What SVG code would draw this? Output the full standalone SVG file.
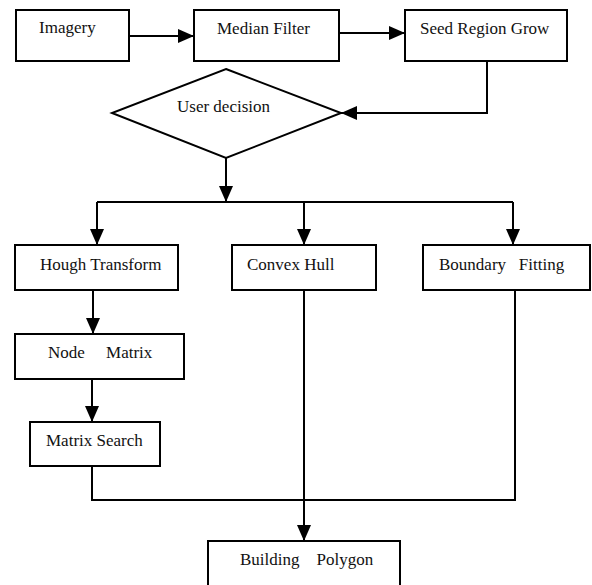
<svg xmlns="http://www.w3.org/2000/svg" width="592" height="585" viewBox="0 0 592 585">
<style>
.box{fill:#fff;stroke:#000;stroke-width:2}
.lbl{font-family:'Liberation Serif','Times New Roman','DejaVu Serif',serif;font-size:17px;fill:#111}
.con{fill:none;stroke:#000;stroke-width:2}
</style>
<defs>
<marker id="ah" markerUnits="userSpaceOnUse" markerWidth="16" markerHeight="14" refX="16" refY="7" orient="auto">
<path d="M0,0 L16,7 L0,14 z" fill="#000"/>
</marker>
</defs>
<rect width="592" height="585" fill="#fff"/>
<g id="connectors">
<path class="con" d="M129,36 H194" marker-end="url(#ah)"/>
<path class="con" d="M339,33 H405" marker-end="url(#ah)"/>
<path class="con" d="M487,61 V113 H341" marker-end="url(#ah)"/>
<path class="con" d="M226,158 V202" marker-end="url(#ah)"/>
<path class="con" d="M97,202 H513"/>
<path class="con" d="M97,202 V245" marker-end="url(#ah)"/>
<path class="con" d="M304,202 V245" marker-end="url(#ah)"/>
<path class="con" d="M513,202 V245" marker-end="url(#ah)"/>
<path class="con" d="M93,290 V334" marker-end="url(#ah)"/>
<path class="con" d="M92,379 V422" marker-end="url(#ah)"/>
<path class="con" d="M92,466 V500 H515 V290"/>
<path class="con" d="M304,290 V541" marker-end="url(#ah)"/>
</g>
<g id="imagery"><rect class="box" x="16" y="10" width="113" height="51"/><text class="lbl" font-family="Liberation Serif" x="39" y="33">Imagery</text></g>
<g id="median"><rect class="box" x="194" y="10" width="145" height="51"/><text class="lbl" font-family="Liberation Serif" x="217" y="34">Median Filter</text></g>
<g id="seed"><rect class="box" x="405" y="10" width="162" height="51"/><text class="lbl" font-family="Liberation Serif" x="420" y="34">Seed Region Grow</text></g>
<g id="decision"><polygon class="box" points="226,69 341,113 226,158 112,113"/><text class="lbl" font-family="Liberation Serif" x="177" y="112">User decision</text></g>
<g id="hough"><rect class="box" x="15" y="245" width="163" height="45"/><text class="lbl" font-family="Liberation Serif" x="40" y="270">Hough Transform</text></g>
<g id="convex"><rect class="box" x="232" y="245" width="144" height="45"/><text class="lbl" font-family="Liberation Serif" x="247" y="270">Convex Hull</text></g>
<g id="boundary"><rect class="box" x="423" y="245" width="167" height="45"/><text class="lbl" font-family="Liberation Serif" x="439" y="270" xml:space="preserve">Boundary   Fitting</text></g>
<g id="node"><rect class="box" x="15" y="334" width="169" height="45"/><text class="lbl" font-family="Liberation Serif" x="48" y="358" xml:space="preserve">Node     Matrix</text></g>
<g id="search"><rect class="box" x="30" y="422" width="130" height="44"/><text class="lbl" font-family="Liberation Serif" x="46" y="446">Matrix Search</text></g>
<g id="polygon"><rect class="box" x="208" y="541" width="192" height="50"/><text class="lbl" font-family="Liberation Serif" x="240" y="565" xml:space="preserve">Building    Polygon</text></g>
</svg>
